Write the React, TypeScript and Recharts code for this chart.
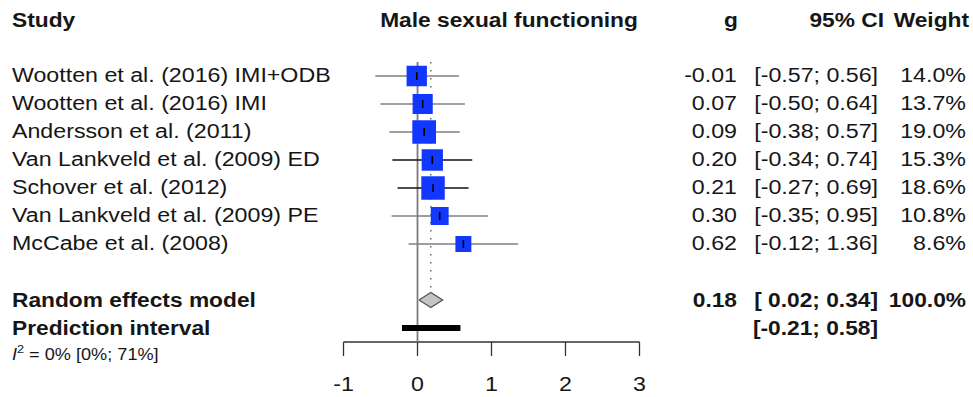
import React from 'react';
import { ScatterChart, Scatter, XAxis, YAxis, ZAxis } from 'recharts';

// study rows, top to bottom
const studies = [
  'Wootten et al. (2016) IMI+ODB',
  'Wootten et al. (2016) IMI',
  'Andersson et al. (2011)',
  'Van Lankveld et al. (2009) ED',
  'Schover et al. (2012)',
  'Van Lankveld et al. (2009) PE',
  'McCabe et al. (2008)',
];
const effects = [-0.01, 0.07, 0.09, 0.2, 0.21, 0.3, 0.62];
const ciLower = [-0.57, -0.5, -0.38, -0.34, -0.27, -0.35, -0.12];
const ciUpper = [0.56, 0.64, 0.57, 0.74, 0.69, 0.95, 1.36];
const weights = [14.0, 13.7, 19.0, 15.3, 18.6, 10.8, 8.6];

const pooledG = 0.18;
const pooledLower = 0.02;
const pooledUpper = 0.34;
const pooledWeight = 100.0;
const predLower = -0.21;
const predUpper = 0.58;
const heterogeneity = ['0%', '0%', '71%']; // I^2 [lower; upper]

const axisTicks = [-1, 0, 1, 2, 3];
const headers = ['Study', 'Male sexual functioning', 'g', '95% CI', 'Weight'];

// row positions (y scale units)
const headerRow = -1;
const pooledRow = studies.length + 2;
const predRow = studies.length + 3;
const yTicks = [headerRow, ...studies.map((_, i) => i + 1), pooledRow, predRow];

const FONT = "'Liberation Sans', Arial, Helvetica, sans-serif";
const INK = '#161616';
const BOX = '#1238ff';
const DIAMOND_H = 0.27;

const fmt = (v: number) => v.toFixed(2);
const fmtCI = (lo: number, hi: number) => `[${lo < 0 ? '' : ' '}${fmt(lo)}; ${fmt(hi)}]`;

const Txt = ({ x, y, anchor = 'start', bold = false, children }: any) => (
  <text
    transform={`translate(${x},${y}) scale(${bold ? 1.11 : 1.19},1)`}
    textAnchor={anchor}
    fontFamily={FONT}
    fontSize={bold ? 20.5 : 19.5}
    fontWeight={bold ? 'bold' : 'normal'}
    fill={INK}
  >
    {children}
  </text>
);

const RowLabels = (props: any) => {
  const { y, payload } = props;
  const r = payload.value;
  if (r === headerRow) {
    const by = y + 7;
    return (
      <g>
        <Txt x={12} y={by} bold>{headers[0]}</Txt>
        <Txt x={509} y={by} anchor="middle" bold>{headers[1]}</Txt>
        <Txt x={731} y={by} anchor="middle" bold>{headers[2]}</Txt>
        <Txt x={884} y={by} anchor="end" bold>{headers[3]}</Txt>
        <Txt x={969} y={by} anchor="end" bold>{headers[4]}</Txt>
      </g>
    );
  }
  if (r >= 1 && r <= studies.length) {
    const i = r - 1;
    const by = y + 5.5;
    return (
      <g>
        <Txt x={12} y={by}>{studies[i]}</Txt>
        <Txt x={737} y={by} anchor="end">{fmt(effects[i])}</Txt>
        <Txt x={878} y={by} anchor="end">{fmtCI(ciLower[i], ciUpper[i])}</Txt>
        <Txt x={966} y={by} anchor="end">{weights[i].toFixed(1)}%</Txt>
      </g>
    );
  }
  if (r === pooledRow) {
    const by = y + 6.5;
    return (
      <g>
        <Txt x={12} y={by} bold>Random effects model</Txt>
        <Txt x={737} y={by} anchor="end" bold>{fmt(pooledG)}</Txt>
        <Txt x={878} y={by} anchor="end" bold>{fmtCI(pooledLower, pooledUpper)}</Txt>
        <Txt x={966} y={by} anchor="end" bold>{pooledWeight.toFixed(1)}%</Txt>
      </g>
    );
  }
  if (r === predRow) {
    const by = y + 6.5;
    return (
      <g>
        <Txt x={12} y={by} bold>Prediction interval</Txt>
        <Txt x={878} y={by} anchor="end" bold>{fmtCI(predLower, predUpper)}</Txt>
        <text
          transform={`translate(12,${y + 32}) scale(1.1,1)`}
          fontFamily={FONT}
          fontSize={16.5}
          fill={INK}
        >
          <tspan fontStyle="italic">I</tspan>
          <tspan dy={-7} fontSize={11.5}>2</tspan>
          <tspan dy={7}>{` = ${heterogeneity[0]} [${heterogeneity[1]}; ${heterogeneity[2]}]`}</tspan>
        </text>
      </g>
    );
  }
  return <g />;
};

const AxisTick = (props: any) => {
  const { x, y, payload } = props;
  return <Txt x={x} y={y + 33} anchor="middle">{payload.value}</Txt>;
};

const Hidden = () => <g />;

const EstimateTick = (props: any) => (
  <line x1={props.cx} x2={props.cx} y1={props.cy - 4} y2={props.cy + 4} stroke="#000" strokeWidth={1.6} />
);

const boxData = studies.map((_, i) => ({ x: effects[i], y: i + 1, w: weights[i] }));
const darkRows = [3, 4];

export default function App() {
  return (
    <div style={{ position: 'absolute', left: 0, top: 0, background: '#fff' }}>
      <ScatterChart width={973} height={397} margin={{ top: 20, right: 333.5, bottom: 0, left: 342.5 }}>
        <XAxis
          type="number"
          dataKey="x"
          domain={[-1, 3]}
          ticks={axisTicks}
          interval={0}
          allowDataOverflow
          height={55}
          tickSize={14}
          stroke="#333"
          strokeWidth={1.3}
          tick={<AxisTick />}
        />
        <YAxis
          type="number"
          dataKey="y"
          domain={[headerRow, predRow + 0.5]}
          reversed
          allowDataOverflow
          ticks={yTicks}
          interval={0}
          width={1}
          axisLine={false}
          tickLine={false}
          tick={<RowLabels />}
        />
        <ZAxis type="number" dataKey="w" domain={[0, 19]} range={[0, 562]} />

        {/* line of no effect */}
        <Scatter
          data={[{ x: 0, y: 0.5 }, { x: 0, y: predRow + 0.5 }]}
          line={{ stroke: '#7c7c7c', strokeWidth: 1.8 }}
          shape={<Hidden />}
          isAnimationActive={false}
        />
        {/* pooled estimate, dotted */}
        <Scatter
          data={[{ x: pooledG, y: 0.5 }, { x: pooledG, y: pooledRow - DIAMOND_H }]}
          line={{ stroke: '#707070', strokeWidth: 1.6, strokeDasharray: '1.6 6.4' }}
          shape={<Hidden />}
          isAnimationActive={false}
        />
        {/* study confidence intervals */}
        {studies.map((s, i) => (
          <Scatter
            key={s}
            data={[{ x: ciLower[i], y: i + 1 }, { x: ciUpper[i], y: i + 1 }]}
            line={{ stroke: darkRows.includes(i) ? '#111' : '#7f7f7f', strokeWidth: 1.6 }}
            shape={<Hidden />}
            isAnimationActive={false}
          />
        ))}
        {/* study boxes, area proportional to weight */}
        <Scatter data={boxData} shape="square" fill={BOX} isAnimationActive={false} />
        <Scatter data={boxData} shape={<EstimateTick />} isAnimationActive={false} />
        {/* random effects diamond */}
        <Scatter
          data={[
            { x: pooledLower, y: pooledRow },
            { x: pooledG, y: pooledRow - DIAMOND_H },
            { x: pooledUpper, y: pooledRow },
            { x: pooledG, y: pooledRow + DIAMOND_H },
            { x: pooledLower, y: pooledRow },
          ]}
          line={{ stroke: '#555', strokeWidth: 1.3, fill: '#c4c4c4' }}
          shape={<Hidden />}
          isAnimationActive={false}
        />
        {/* prediction interval */}
        <Scatter
          data={[{ x: predLower, y: predRow }, { x: predUpper, y: predRow }]}
          line={{ stroke: '#000', strokeWidth: 6 }}
          shape={<Hidden />}
          isAnimationActive={false}
        />
      </ScatterChart>
    </div>
  );
}
